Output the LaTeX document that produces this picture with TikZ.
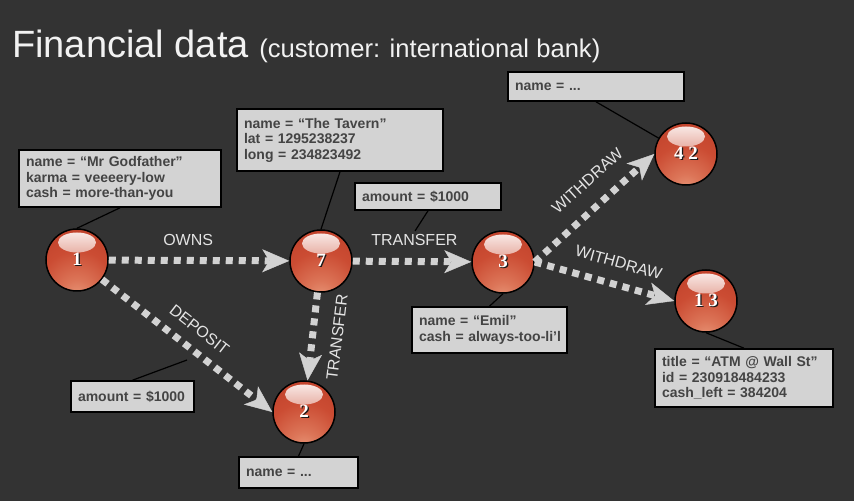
\documentclass[tikz,border=0pt]{standalone}
\usepackage{fontspec}
\setmainfont{Liberation Sans}
\newfontfamily\numfont{Liberation Serif}
\usetikzlibrary{arrows.meta,calc}

\definecolor{bg}{HTML}{333333}
\definecolor{edgegray}{HTML}{D2D2D2}
\definecolor{labelgray}{HTML}{E4E4E4}
\definecolor{titlegray}{HTML}{F2F2F2}
\definecolor{boxfill}{HTML}{D3D3D3}
\definecolor{boxtext}{HTML}{444444}
\definecolor{orbLight}{HTML}{EA9C7E}
\definecolor{orbWarm}{HTML}{DC7558}
\definecolor{orbMid}{HTML}{CB4C33}
\definecolor{orbDeep}{HTML}{BC3E28}
\definecolor{orbRim}{HTML}{A2301E}
\definecolor{orbDark}{HTML}{862214}

% glossy red sphere: warm glow low in the ball, darker towards the rim
\pgfdeclareradialshading{orb}{\pgfpoint{0bp}{-32bp}}{%
  color(0bp)=(orbLight); color(12bp)=(orbWarm); color(30bp)=(orbMid);
  color(52bp)=(orbDeep); color(66bp)=(orbRim); color(86bp)=(orbRim);
  color(100bp)=(orbDark)}

% white digits with a dark drop shadow
\newcommand\orbnum[1]{\makebox[0pt][l]{\kern1.3pt\raisebox{-1.3pt}{\color{black!90}#1}}#1}

\tikzset{
  orb/.style={circle, minimum size=62pt, inner sep=0pt, draw=black, line width=1.5pt,
    shade, shading=orb, text=white,
    font=\numfont\bfseries\fontsize{19}{19}\selectfont,
    path picture={\shade[top color=white!92!orbMid, middle color=orbMid!45!white, bottom color=orbMid]
      ($(path picture bounding box.center)+(0,17.5pt)$) ellipse[x radius=19pt, y radius=10pt];}},
  infobox/.style={draw=black, line width=1.6pt, fill=boxfill, text=boxtext,
    font=\bfseries\fontsize{14}{15.5}\selectfont, align=left, inner xsep=7pt, inner ysep=2pt},
  flow/.style={draw=edgegray, line width=7pt, dash pattern=on 7pt off 6pt,
    -{Stealth[length=27pt, width=23pt, inset=7pt, line width=0.4pt]}},
  elabel/.style={text=labelgray, font=\fontsize{16}{16}\selectfont, inner sep=3pt},
  callout/.style={draw=black, line width=1.2pt},
}

\begin{document}
\begin{tikzpicture}[x=1pt, y=1pt]
  \fill[bg] (0,0) rectangle (854,501);
  \useasboundingbox (0,0) rectangle (854,501);

  % heading
  \node[anchor=base west, text=titlegray, inner sep=0pt, font=\fontsize{38}{38}\selectfont]
    (title) at (12,443) {Financial data {\fontsize{25.6}{25.6}\selectfont (customer: international bank)}};

  % entities
  \node[orb] (n1)  at (77,241)  {\orbnum{1}};
  \node[orb] (n7)  at (321,240) {\orbnum{7}};
  \node[orb] (n3)  at (503,239) {\orbnum{3}};
  \node[orb] (n42) at (686,347) {\orbnum{4 2}};
  \node[orb] (n13) at (706,200) {\orbnum{1 3}};
  \node[orb] (n2)  at (304,89)  {\orbnum{2}};

  % property boxes
  \node[infobox, minimum width=202pt, minimum height=57pt, text width=188pt] (gf) at (120,322.5)
    {name = “Mr Godfather”\\karma = veeeery-low\\cash = more-than-you};
  \node[infobox, minimum width=206pt, minimum height=62pt, text width=192pt] (tav) at (340,361)
    {name = “The Tavern”\\lat = 1295238237\\long = 234823492};
  \node[infobox, minimum width=146pt, minimum height=27pt, text width=132pt] (amt1) at (428,304.5)
    {amount = \$1000};
  \node[infobox, minimum width=176pt, minimum height=29pt, text width=162pt] (nm42) at (596,414.5)
    {name = ...};
  \node[infobox, minimum width=155pt, minimum height=46pt, text width=141pt] (emil) at (489.5,171)
    {name = “Emil”\\\mbox{cash = always-too-li'l}};
  \node[infobox, minimum width=178pt, minimum height=58pt, text width=164pt] (atm) at (744,123)
    {title = “ATM @ Wall St”\\id = 230918484233\\cash\_left = 384204};
  \node[infobox, minimum width=123pt, minimum height=31pt, text width=109pt] (amt2) at (132.5,104.5)
    {amount = \$1000};
  \node[infobox, minimum width=119pt, minimum height=31pt, text width=105pt] (nm2) at (298.5,28.5)
    {name = ...};

  % relationships
  \draw[flow] (n1) -- node[elabel, pos=0.44, above=8pt] (lOwns) {OWNS} (n7);
  \draw[flow] (n7) -- node[elabel, pos=0.52, above=9pt] (lTr1) {TRANSFER} (n3);
  \draw[flow] (n1) -- node[elabel, sloped, pos=0.5, above=8pt] (lDep) {DEPOSIT} (n2.west);
  \draw[flow] (n7) -- (n2);
  \node[elabel, rotate=83] (lTr2) at ($(n7)!0.5!(n2)+(24.5,-1)$) {TRANSFER};
  \draw[flow] (n3.east) -- node[elabel, sloped, pos=0.58, above=13pt] (lWd1) {WITHDRAW} (n42.west);
  \draw[flow] (n3.east) -- node[elabel, sloped, pos=0.56, above=10pt] (lWd2) {WITHDRAW} (n13.west);

  % callout leaders
  \coordinate (amt1end) at (415,270);
  \coordinate (amt2end) at (187,141);
  \draw[callout] (gf.south) -- (n1.north);
  \draw[callout] (tav.south) -- (n7.north);
  \draw[callout] (amt1.south) -- (amt1end);
  \draw[callout] (nm42.south) -- (n42);
  \draw[callout] (emil.north) -- (n3.south);
  \draw[callout] (atm.north) -- (n13.south);
  \draw[callout] (amt2.north) -- (amt2end);
  \draw[callout] (nm2.north) -- (n2.south);
\end{tikzpicture}
\end{document}
